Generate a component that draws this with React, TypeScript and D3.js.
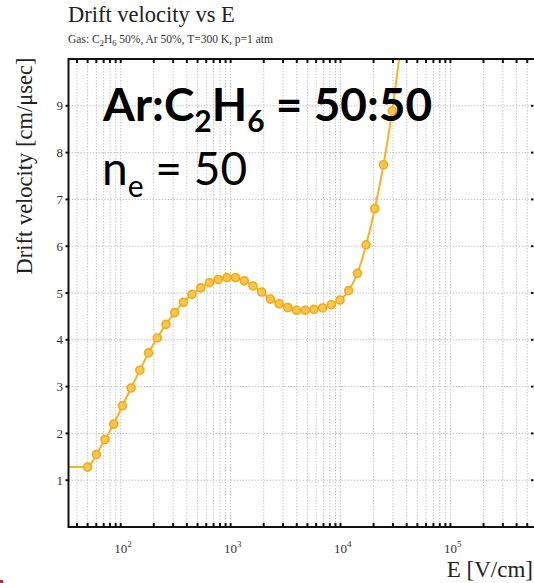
import React from "react";
import * as d3 from "d3";

// E field [V/cm] of each computed point
const fieldE = [
  50, 60, 72, 86.4, 103.7, 124.4, 149.3, 179.2, 215, 258, 309.6, 371.5, 445.8,
  535, 642, 770, 924, 1109, 1331, 1597, 1916, 2300, 2760, 3312, 3974, 4769,
  5723, 6867, 8241, 9889, 11867, 14240, 17088, 20506, 24607, 29529, 35434,
];
// drift velocity [cm/usec]
const driftV = [
  1.28, 1.55, 1.87, 2.2, 2.59, 2.97, 3.35, 3.72, 4.04, 4.33, 4.58, 4.8, 4.97,
  5.11, 5.22, 5.29, 5.33, 5.33, 5.26, 5.15, 5.02, 4.87, 4.77, 4.69, 4.63, 4.63,
  4.65, 4.68, 4.75, 4.85, 5.05, 5.42, 6.03, 6.8, 7.74, 8.89, 10.3,
];
const yTicks = [1, 2, 3, 4, 5, 6, 7, 8, 9];
const decades = [2, 3, 4, 5];

const W = 534;
const H = 583;
const M = { left: 68.5, right: 533.5, top: 59, bottom: 527 };
const serif = "'Liberation Serif', 'Times New Roman', serif";
const LINE = "#f5b324";

const App = () => {
  const x = d3.scaleLog().domain([33.5, 570000]).range([M.left, M.right]);
  const y = d3.scaleLinear().domain([0, 10]).range([M.bottom, M.top]);

  const points = fieldE.map((e, i) => ({ e, v: driftV[i] }));

  // minor + major positions inside the domain
  const [d0, d1] = x.domain();
  const gridX: number[] = [];
  for (let p = 1; p <= 5; p++) {
    for (let m = 1; m <= 9; m++) {
      const v = m * Math.pow(10, p);
      if (v > d0 && v < d1) gridX.push(v);
    }
  }

  // garfield keeps the value constant below the first point
  const lineData = [{ e: d0, v: driftV[0] }, ...points];
  const line = d3
    .line<{ e: number; v: number }>()
    .x((d) => x(d.e))
    .y((d) => y(d.v))
    .curve(d3.curveMonotoneX);

  return (
    <svg
      width={W}
      height={H}
      style={{ position: "absolute", left: 0, top: 0, background: "#fff" }}
    >
      <defs>
        <clipPath id="plot">
          <rect x={M.left} y={M.top} width={M.right - M.left} height={M.bottom - M.top} />
        </clipPath>
      </defs>

      {/* title */}
      <text x={68} y={22} fontFamily={serif} fontSize={22.5} fill="#222">
        Drift velocity vs E
      </text>
      <text x={68} y={43} fontFamily={serif} fontSize={11.5} fill="#333">
        Gas: C<tspan dy={2.5} fontSize={8.5}>2</tspan>
        <tspan dy={-2.5}>H</tspan>
        <tspan dy={2.5} fontSize={8.5}>6</tspan>
        <tspan dy={-2.5}> 50%, Ar 50%, T=300 K, p=1 atm</tspan>
      </text>

      {/* grid */}
      <g stroke="#c4c4c4" strokeWidth={1} strokeDasharray="1.5,1.5">
        {gridX.map((v) => (
          <line key={"gx" + v} x1={x(v)} x2={x(v)} y1={M.top} y2={M.bottom} />
        ))}
        {yTicks.map((v) => (
          <line key={"gy" + v} x1={M.left} x2={M.right} y1={y(v)} y2={y(v)} />
        ))}
      </g>

      {/* curve */}
      <g clipPath="url(#plot)">
        <path d={line(lineData) || ""} fill="none" stroke={LINE} strokeWidth={2} />
        {points.map((d, i) => (
          <circle
            key={i}
            cx={x(d.e)}
            cy={y(d.v)}
            r={4}
            fill="#f9c650"
            stroke="#f2aa14"
            strokeWidth={1.6}
          />
        ))}
      </g>

      {/* frame */}
      <g stroke="#111" strokeWidth={2} fill="none">
        <line x1={M.left} x2={M.left} y1={M.top - 1} y2={M.bottom + 1} />
        <line x1={M.left} x2={M.right + 1} y1={M.top} y2={M.top} />
        <line x1={M.left} x2={M.right + 1} y1={M.bottom} y2={M.bottom} />
      </g>
      <g stroke="#111" strokeWidth={2}>
        {gridX.map((v) => (
          <g key={"t" + v}>
            <line x1={x(v)} x2={x(v)} y1={M.top} y2={M.top + 4} />
            <line x1={x(v)} x2={x(v)} y1={M.bottom} y2={M.bottom - 4} />
          </g>
        ))}
        {yTicks.map((v) => (
          <g key={"yt" + v}>
            <line x1={M.left - 3} x2={M.left} y1={y(v)} y2={y(v)} />
            <line x1={M.right - 2.5} x2={M.right} y1={y(v)} y2={y(v)} />
          </g>
        ))}
      </g>

      {/* tick labels */}
      {yTicks.map((v) => (
        <text
          key={"yl" + v}
          x={63}
          y={y(v) + 4.5}
          textAnchor="end"
          fontFamily={serif}
          fontSize={13}
          fill="#333"
        >
          {v}
        </text>
      ))}
      {decades.map((p) => (
        <text
          key={"xl" + p}
          x={x(Math.pow(10, p)) - 6.5}
          y={553}
          fontFamily={serif}
          fontSize={13}
          fill="#333"
        >
          10
          <tspan dy={-6} fontSize={9}>
            {p}
          </tspan>
        </text>
      ))}

      {/* axis titles */}
      <text
        transform="translate(32,166) rotate(-90)"
        textAnchor="middle"
        fontFamily={serif}
        fontSize={22.5}
        fill="#222"
      >
        Drift velocity [cm/μsec]
      </text>
      <text x={533} y={577} textAnchor="end" fontFamily={serif} fontSize={23} fill="#222">
        E [V/cm]
      </text>

      {/* annotation */}
      <text x={103} y={121} fontFamily="Lato, 'Open Sans', sans-serif" fontSize={46} fontWeight={700} fill="#000">
        Ar:C<tspan dy={11} fontSize={30}>2</tspan>
        <tspan dy={-11}>H</tspan>
        <tspan dy={11} fontSize={30}>6</tspan>
        <tspan dy={-11}> = 50:50</tspan>
      </text>
      <text x={102} y={185} fontFamily="Lato, 'Open Sans', sans-serif" fontSize={46} fill="#000">
        n<tspan dy={12} fontSize={30}>e</tspan>
        <tspan dy={-12}> = 50</tspan>
      </text>

      <rect x={0} y={580} width={3} height={3} fill="#e02020" />
    </svg>
  );
};

export default App;
